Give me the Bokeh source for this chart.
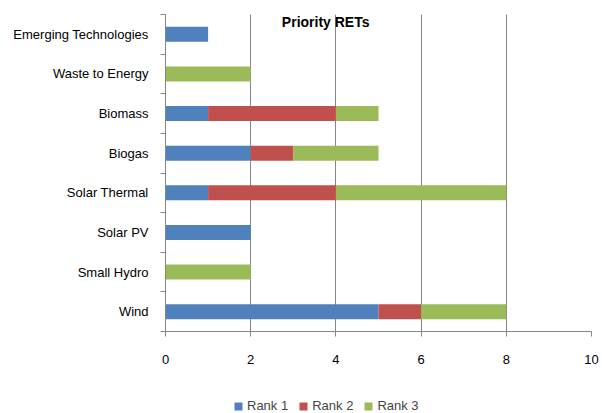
from bokeh.plotting import figure
from bokeh.layouts import column
from bokeh.models import ColumnDataSource, Range1d, FixedTicker, Label, Legend, LegendItem
from bokeh.embed import file_html
from bokeh.resources import INLINE

categories = ["Wind", "Small Hydro", "Solar PV", "Solar Thermal", "Biogas",
              "Biomass", "Waste to Energy", "Emerging Technologies"]
rank1 = [5, 0, 2, 1, 2, 1, 0, 1]
rank2 = [1, 0, 0, 3, 1, 3, 0, 0]
rank3 = [2, 2, 0, 4, 2, 1, 2, 0]
series = ["Rank 1", "Rank 2", "Rank 3"]
colors = ["#4F81BD", "#C0504D", "#9BBB59"]
x_ticks = [0, 2, 4, 6, 8, 10]

FONT = "Liberation Sans"
ypos = [i + 0.5 for i in range(len(categories))]
data = dict(y=ypos, cat=categories, r1=rank1, r2=rank2, r3=rank3)
src = ColumnDataSource(data)

p = figure(width=602, height=385, output_backend="svg", toolbar_location=None,
           x_range=Range1d(0, 10), y_range=Range1d(0, len(categories)),
           min_border_left=165, min_border_right=11, min_border_top=14, min_border_bottom=54)
p.outline_line_color = None
p.background_fill_color = "white"

p.hbar_stack(["r1", "r2", "r3"], y="y", height=0.38, color=colors,
             line_color=None, source=src)

# axes
p.xaxis.ticker = FixedTicker(ticks=x_ticks)
p.xaxis.axis_line_color = "#868686"
p.xaxis.major_tick_line_color = "#868686"
p.xaxis.major_tick_out = 5
p.xaxis.major_tick_in = 0
p.xaxis.minor_tick_line_color = None
p.xaxis.major_label_standoff = 18
p.xaxis.major_label_text_font = FONT
p.xaxis.major_label_text_font_size = "13px"
p.xaxis.major_label_text_color = "#000000"

p.yaxis.ticker = FixedTicker(ticks=ypos, minor_ticks=list(range(len(categories) + 1)))
p.yaxis.major_label_overrides = {y: c for y, c in zip(ypos, categories)}
p.yaxis.axis_line_color = "#868686"
p.yaxis.major_tick_line_color = None
p.yaxis.major_tick_out = 0
p.yaxis.minor_tick_line_color = "#868686"
p.yaxis.minor_tick_out = 5
p.yaxis.minor_tick_in = 0
p.yaxis.major_label_standoff = 12
p.yaxis.major_label_text_font = FONT
p.yaxis.major_label_text_font_size = "13px"
p.yaxis.major_label_text_color = "#000000"

p.xgrid.ticker = FixedTicker(ticks=x_ticks)
p.xgrid.grid_line_color = "#868686"
p.ygrid.grid_line_color = None

p.add_layout(Label(x=3.76, y=7.8, text="Priority RETs", text_font=FONT,
                   text_font_style="bold", text_font_size="14px", text_color="#000000",
                   text_align="center", text_baseline="middle"))

# legend strip below the chart (frames are aligned with the main chart by the column layout)
lg = figure(width=602, height=28, output_backend="svg", toolbar_location=None,
            x_range=Range1d(0, 1), y_range=Range1d(0, 1),
            min_border_left=165, min_border_right=11, min_border_top=0, min_border_bottom=0)
lg.outline_line_color = None
lg.axis.visible = False
lg.grid.visible = False
# zero-length swatch source, outside the visible range, only to feed the legend glyphs
swatch = ColumnDataSource(dict(y=[-5], r1=[0], r2=[0], r3=[0]))
leg_renderers = lg.hbar_stack(["r1", "r2", "r3"], y="y", height=0.5, color=colors,
                              line_color=None, source=swatch)
legend = Legend(items=[LegendItem(label=s, renderers=[r]) for s, r in zip(series, leg_renderers)],
                orientation="horizontal", location=(68, 0),
                label_text_font=FONT, label_text_font_size="13px",
                glyph_width=10, glyph_height=10, label_standoff=4, spacing=10,
                padding=0, margin=0, border_line_color=None, background_fill_alpha=0)
lg.add_layout(legend, "center")

layout = column(p, lg, spacing=0)
open("out.html", "w").write(file_html(layout, INLINE))
